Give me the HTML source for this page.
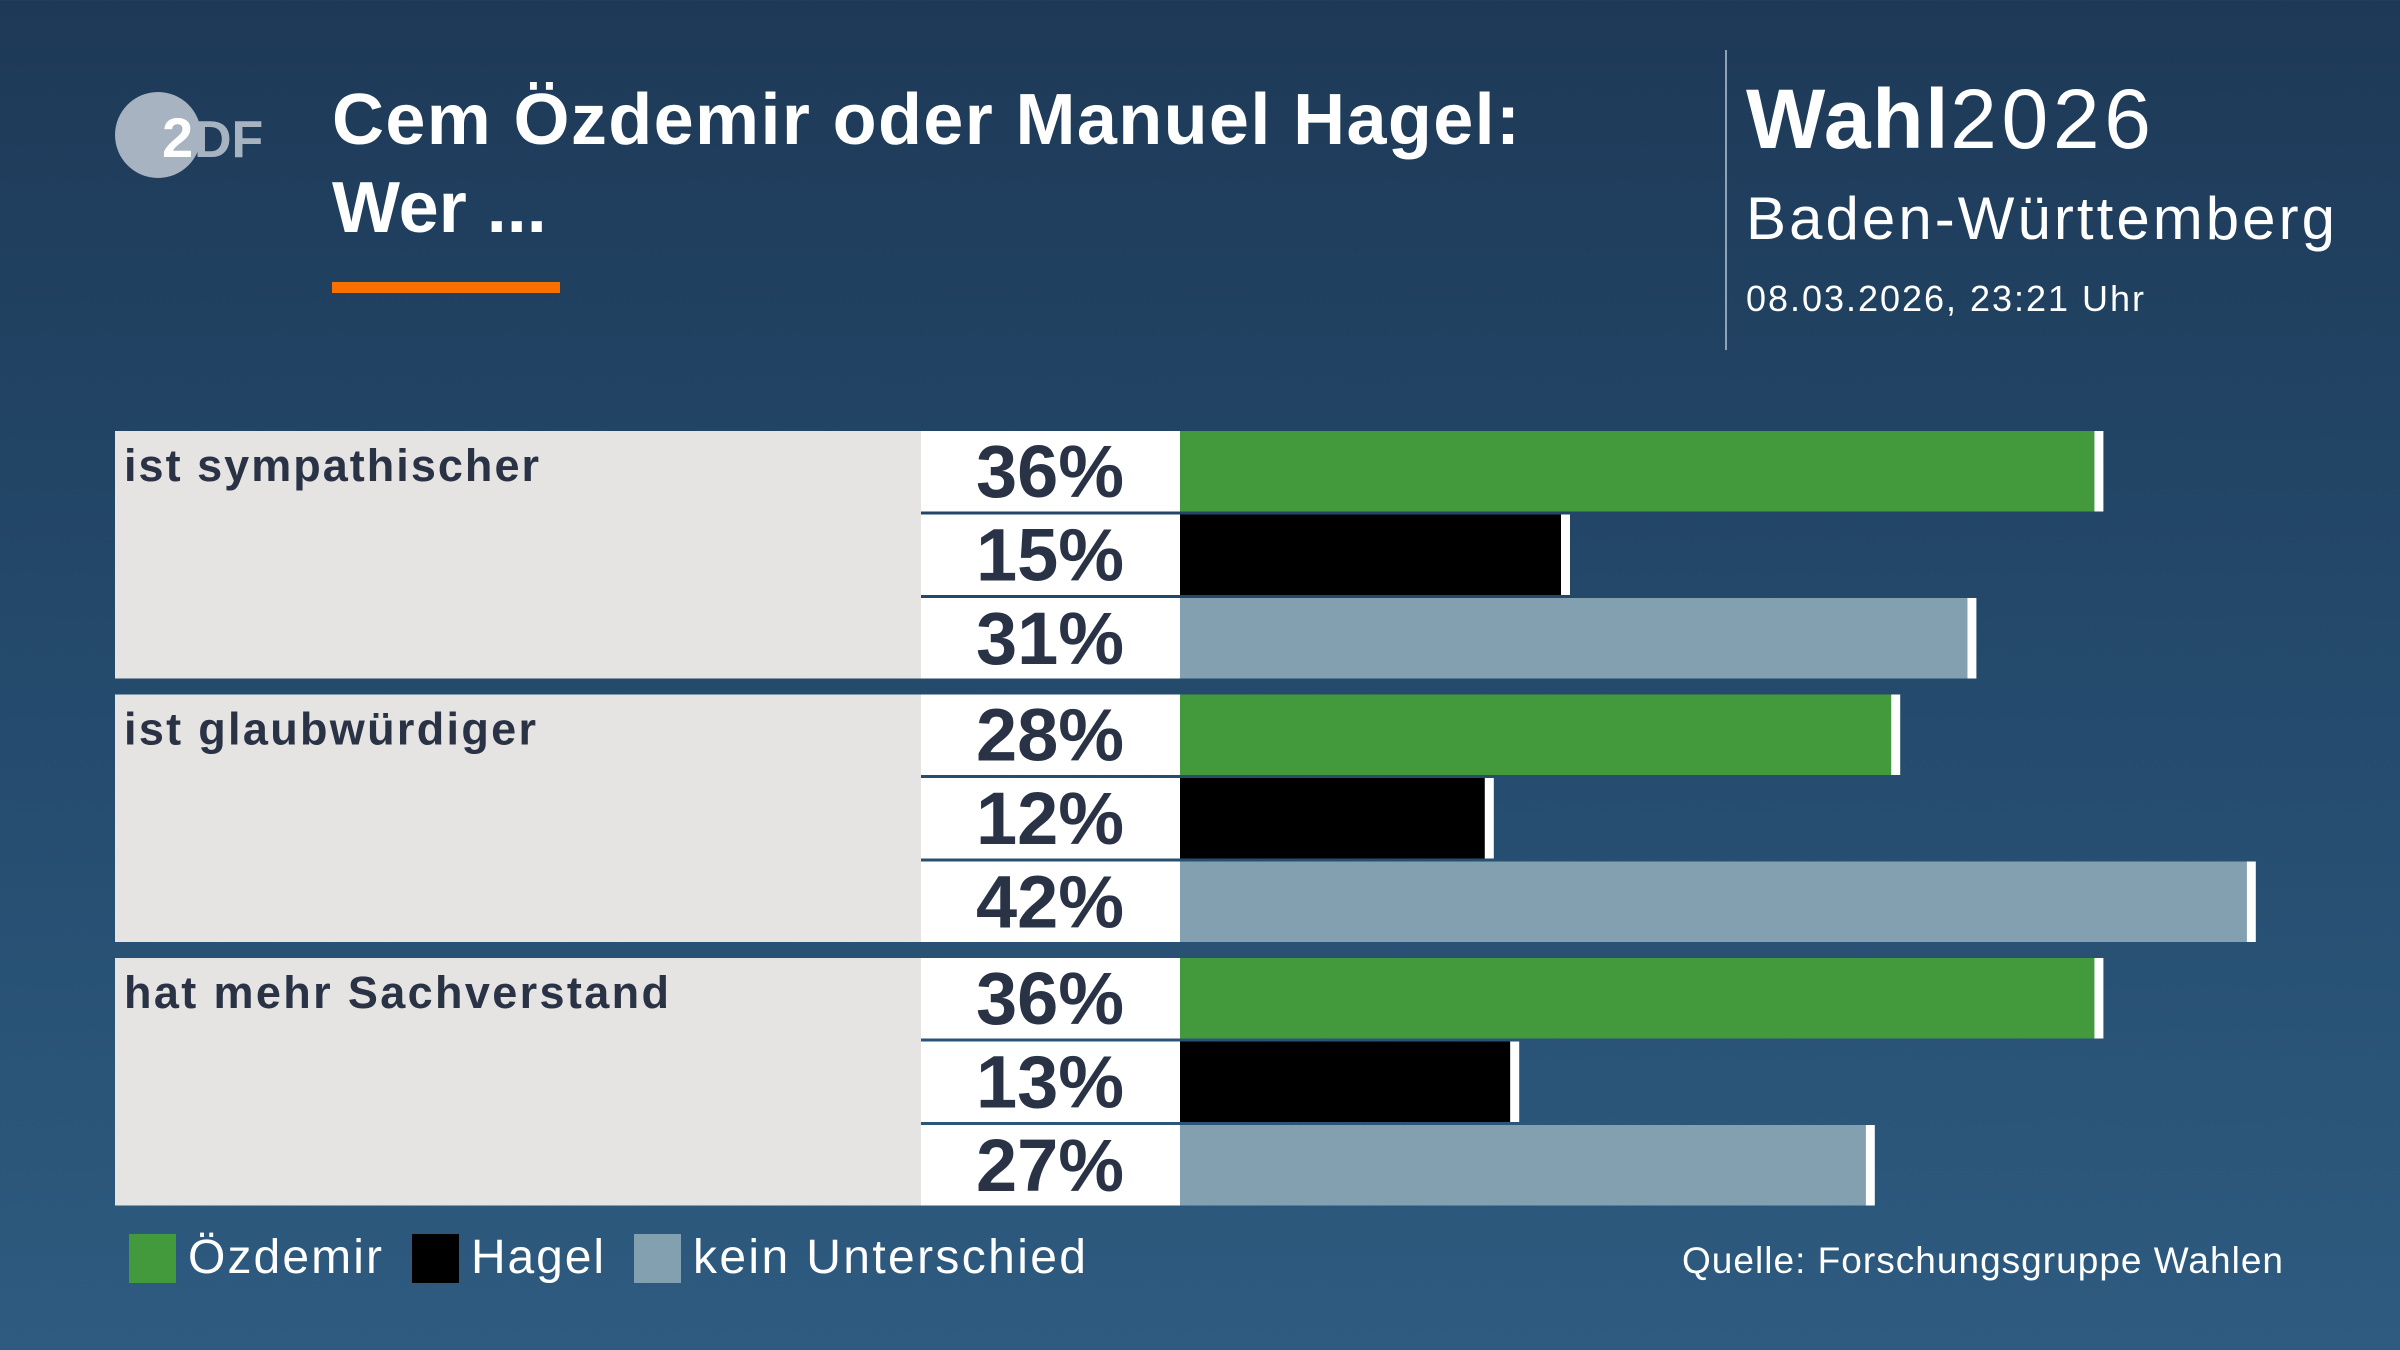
<!DOCTYPE html>
<html><head><meta charset="utf-8"><style>
html,body{margin:0;padding:0;width:2400px;height:1350px;overflow:hidden}
body{background:linear-gradient(180deg,#1e3957 0%,#244a6c 50%,#2e5b80 100%);font-family:"Liberation Sans",sans-serif}
</style></head><body>
<svg id="chart" width="2400" height="1350" xmlns="http://www.w3.org/2000/svg" font-family="Liberation Sans, sans-serif">
<g>
<circle cx="158" cy="135" r="43" fill="#a7b3c1"/>
<text x="162" y="157" font-size="56" font-weight="bold" fill="#fff">2</text>
<text x="194" y="157" font-size="52" fill="#a7b3c1" font-weight="bold">DF</text>
</g>
<text x="332" y="144" font-size="72" font-weight="bold" fill="#fff" textLength="1188" lengthAdjust="spacing">Cem Özdemir oder Manuel Hagel:</text>
<text x="332" y="232" font-size="72" font-weight="bold" fill="#fff">Wer ...</text>
<rect x="332" y="282" width="228" height="11" fill="#fa7000"/>
<rect x="1725" y="50" width="2" height="300" fill="#8fa3b8"/>
<text x="1746" y="148" font-size="84" fill="#fff" textLength="405" lengthAdjust="spacing"><tspan font-weight="bold" letter-spacing="-3">Wahl</tspan>2026</text>
<text x="1746" y="239" font-size="60" fill="#fff" textLength="589" lengthAdjust="spacing">Baden-Württemberg</text>
<text x="1746" y="311" font-size="36" fill="#fff" textLength="398" lengthAdjust="spacing">08.03.2026, 23:21 Uhr</text>
<g id="plot"></g>
<g>
<rect x="129" y="1234" width="47" height="49" fill="#429a3d"/>
<text x="188" y="1273" font-size="48" fill="#fff" textLength="194" lengthAdjust="spacing">Özdemir</text>
<rect x="412" y="1234" width="47" height="49" fill="#000"/>
<text x="471" y="1273" font-size="48" fill="#fff" textLength="133" lengthAdjust="spacing">Hagel</text>
<rect x="634" y="1234" width="47" height="49" fill="#83a0b1"/>
<text x="693" y="1273" font-size="48" fill="#fff" textLength="393" lengthAdjust="spacing">kein Unterschied</text>
</g>
<text x="1682" y="1273" font-size="37" fill="#fff" textLength="601" lengthAdjust="spacing">Quelle: Forschungsgruppe Wahlen</text>
</svg>
<script>
const categories = ["ist sympathischer", "ist glaubwürdiger", "hat mehr Sachverstand"];
const seriesNames = ["Özdemir", "Hagel", "kein Unterschied"];
const oezdemir = [36, 28, 36];
const hagel = [15, 12, 13];
const keinUnterschied = [31, 42, 27];
const seriesValues = [oezdemir, hagel, keinUnterschied];
const colors = ["#429a3d", "#000000", "#83a0b1"];
const labelWidths = [415, 412, 545];

const NS = "http://www.w3.org/2000/svg";
const plot = document.getElementById("plot");
const x0 = 1180, pxPerPct = 25.4;
const xScale = v => x0 + v * pxPerPct;
const groupTop = i => 431 + i * 263.5;
const rowTop = (i, j) => groupTop(i) + j * 83.5;
const rowH = 80.5;
function mk(tag, attrs){ const e = document.createElementNS(NS, tag); for (const k in attrs) e.setAttribute(k, attrs[k]); return e; }

categories.forEach((cat, i) => {
  const g = mk("g", {});
  
  
  const bg = mk("rect", {x:115, y:groupTop(i), width:806, height:247.5, fill:"#e6e4e2"});
  
  
  g.appendChild(bg);
  const lt = mk("text", {x:124, y:groupTop(i)+50, "font-size":45, "font-weight":"bold", fill:"#2a3346", textLength:labelWidths[i], lengthAdjust:"spacing"});
  lt.textContent = cat;
  
  
  g.appendChild(lt);
  seriesValues.forEach((vals, j) => {
    const v = vals[i];
    const y = rowTop(i, j);
    const cell = mk("rect", {x:921, y:y, width:259, height:rowH, fill:"#fff"});
    
    
    g.appendChild(cell);
    const t = mk("text", {x:1050, y:y+66, "font-size":74, "font-weight":"bold", fill:"#2a3346", "text-anchor":"middle"});
    t.textContent = v + "%";
    
    
    g.appendChild(t);
    const bar = mk("rect", {x:x0, y:y, width:xScale(v)-x0, height:rowH, fill:colors[j]});
    
    
    g.appendChild(bar);
    const tick = mk("rect", {x:xScale(v), y:y, width:9, height:rowH, fill:"#fff"});
    
    
    g.appendChild(tick);
  });
  plot.appendChild(g);
});
</script>
</body></html>
